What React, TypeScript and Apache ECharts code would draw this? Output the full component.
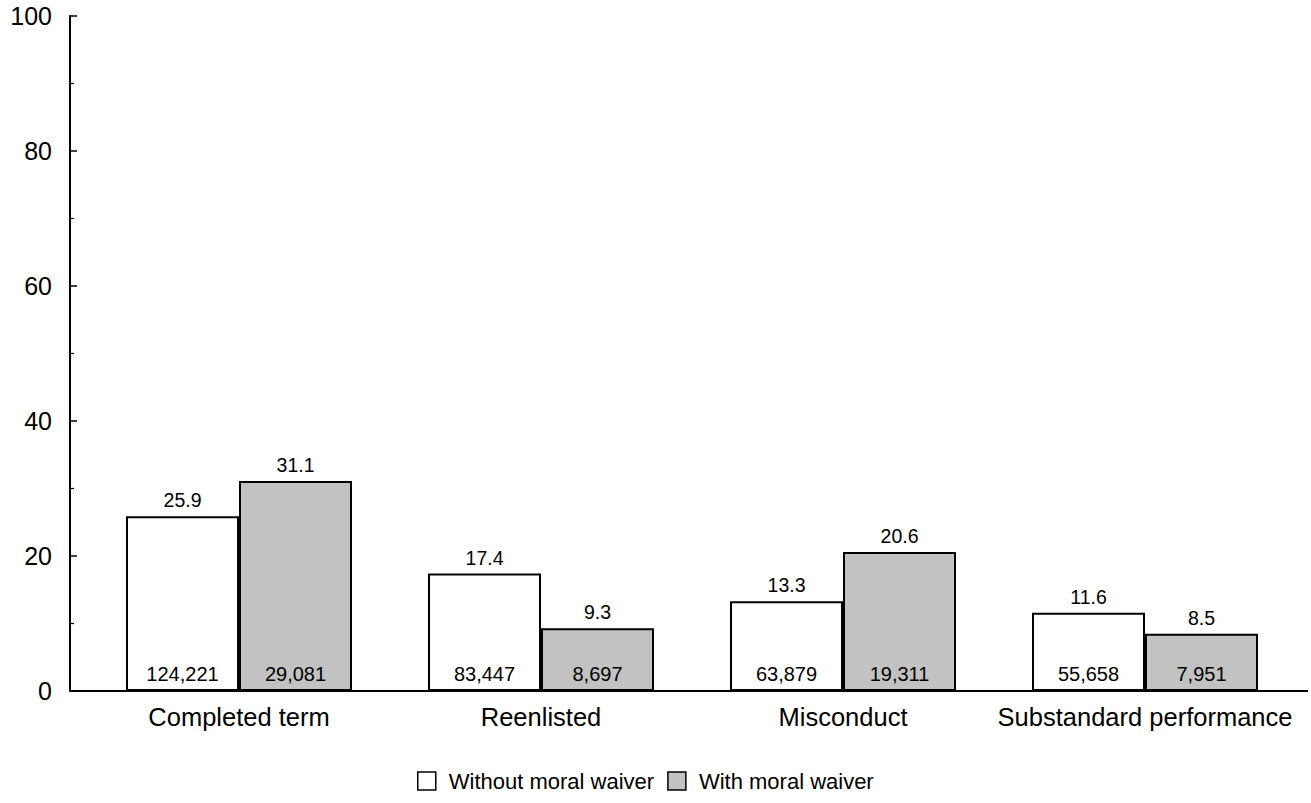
import React, { useEffect, useRef } from "react";
import * as echarts from "echarts";

const categories = ["Completed term", "Reenlisted", "Misconduct", "Substandard performance"];
const seriesNames = ["Without moral waiver", "With moral waiver"];
const withoutPct = [25.9, 17.4, 13.3, 11.6];
const withPct = [31.1, 9.3, 20.6, 8.5];
const withoutCounts = [124221, 83447, 63879, 55658];
const withCounts = [29081, 8697, 19311, 7951];
const yTicks = [0, 20, 40, 60, 80, 100];

const FONT = "'Liberation Sans', Arial, Helvetica, sans-serif";

function fmt(n: number) {
  return n.toLocaleString("en-US");
}

export default function App() {
  const ref = useRef<HTMLDivElement>(null);
  useEffect(() => {
    if (!ref.current) return;
    const chart = echarts.init(ref.current, null, { renderer: "svg" });
    const barW = 113;
    const gridLeft = 88;
    const gridRight = 15;
    const gridTop = 16;
    const gridBottom = 112;
    const baseY = 803 - gridBottom;
    const pctLabel = {
      show: true,
      position: "top",
      distance: 6,
      fontFamily: FONT,
      fontSize: 19.5,
      color: "#000",
      formatter: (p: any) => String(p.value.toFixed(1)),
    };
    const countLabel = (counts: number[]) => ({
      show: true,
      position: "insideBottom",
      distance: 7,
      fontFamily: FONT,
      fontSize: 20,
      color: "#000",
      formatter: (p: any) => fmt(counts[p.dataIndex]),
    });
    chart.setOption({
      animation: false,
      backgroundColor: "#fff",
      grid: { left: gridLeft, right: gridRight, top: gridTop, bottom: gridBottom, containLabel: false },
      legend: {
        data: seriesNames,
        left: 412,
        top: 765,
        icon: "rect",
        itemWidth: 18,
        itemHeight: 18,
        itemGap: 13,
        itemStyle: { borderColor: "#000", borderWidth: 1.5 },
        textStyle: { fontFamily: FONT, fontSize: 22, color: "#000", padding: [0, 0, 0, 8] },
      },
      xAxis: [
        {
          type: "category",
          data: categories,
          axisLine: { show: false },
          axisTick: { show: false },
          axisLabel: { interval: 0, fontFamily: FONT, fontSize: 25.5, color: "#000", margin: 13, hideOverlap: false },
        },
        {
          type: "category",
          data: categories,
          show: false,
        },
      ],
      yAxis: {
        type: "value",
        min: yTicks[0],
        max: yTicks[yTicks.length - 1],
        interval: 20,
        offset: 18,
        axisLine: { show: true, lineStyle: { color: "#000", width: 2 } },
        axisTick: { show: true, inside: true, length: 7, lineStyle: { color: "#000", width: 1.5 } },
        minorTick: { show: true, splitNumber: 2, length: 4, lineStyle: { color: "#000", width: 1.2 } },
        splitLine: { show: false },
        axisLabel: { fontFamily: FONT, fontSize: 25, color: "#000", margin: 18 },
      },
      graphic: [
        {
          type: "line",
          shape: { x1: 70, y1: baseY, x2: 1308, y2: baseY },
          style: { stroke: "#000", lineWidth: 2 },
          z: 100,
        },
      ],
      series: [
        {
          name: seriesNames[0],
          type: "bar",
          xAxisIndex: 0,
          data: withoutPct,
          barWidth: barW,
          barGap: "0%",
          itemStyle: { color: "#ffffff", borderColor: "#000", borderWidth: 2 },
          label: pctLabel,
        },
        {
          name: seriesNames[1],
          type: "bar",
          xAxisIndex: 0,
          data: withPct,
          barWidth: barW,
          barGap: "0%",
          itemStyle: { color: "#c2c2c2", borderColor: "#000", borderWidth: 2 },
          label: pctLabel,
        },
        {
          name: "counts-without",
          type: "bar",
          xAxisIndex: 1,
          data: withoutPct,
          barWidth: barW,
          barGap: "0%",
          silent: true,
          itemStyle: { color: "rgba(0,0,0,0)" },
          label: countLabel(withoutCounts),
          z: 5,
        },
        {
          name: "counts-with",
          type: "bar",
          xAxisIndex: 1,
          data: withPct,
          barWidth: barW,
          barGap: "0%",
          silent: true,
          itemStyle: { color: "rgba(0,0,0,0)" },
          label: countLabel(withCounts),
          z: 5,
        },
      ],
    });
    return () => chart.dispose();
  }, []);
  return (
    <div
      ref={ref}
      style={{ position: "fixed", left: 0, top: 0, width: 1311, height: 803, background: "#fff" }}
    />
  );
}
